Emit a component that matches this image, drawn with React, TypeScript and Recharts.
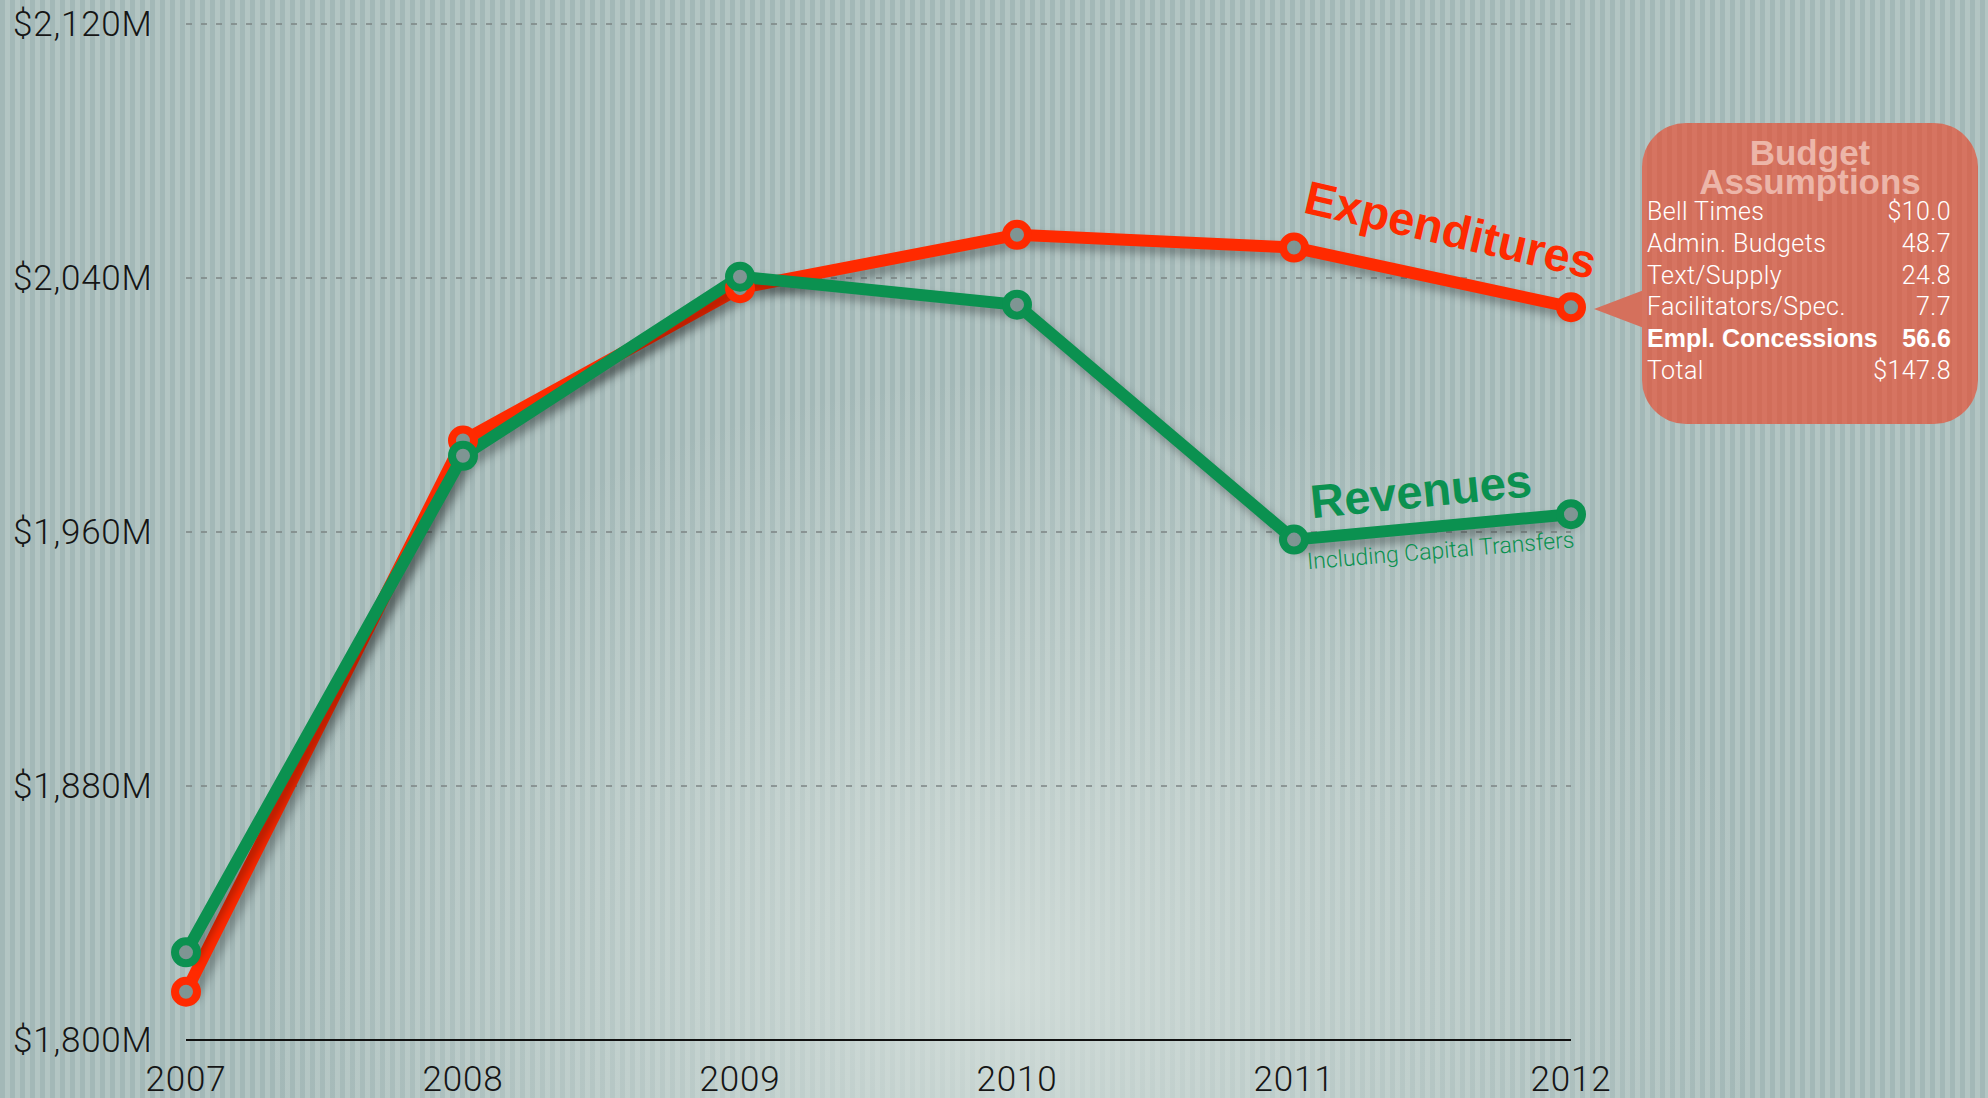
import { LineChart, Line, XAxis, YAxis, CartesianGrid } from 'recharts';

const years = ['2007', '2008', '2009', '2010', '2011', '2012'];
const expenditures = [1815.2, 1988.8, 2036.8, 2053.6, 2049.6, 2030.8];
const revenues = [1827.6, 1984.0, 2040.4, 2031.6, 1957.6, 1965.6];
const yTicks = [1800, 1880, 1960, 2040, 2120];

const assumptionItems = ['Bell Times', 'Admin. Budgets', 'Text/Supply', 'Facilitators/Spec.', 'Empl. Concessions', 'Total'];
const assumptionValues = ['$10.0', '48.7', '24.8', '7.7', '56.6', '$147.8'];
const boldRow = 'Empl. Concessions';

const RED = '#ff2a00';
const GREEN = '#0b9150';
const BOX = '#d5705c';
const LIGHT = "Roboto, 'Liberation Sans', sans-serif";
const BOLD = "'Liberation Sans', Arial, sans-serif";

const data = years.map((year, i) => ({
  year,
  expenditures: expenditures[i],
  revenues: revenues[i],
}));

const lastIdx = years.length - 1;

function YTick({ y, payload }: any) {
  return (
    <text x={13} y={y} dy="0.35em" textAnchor="start" fontSize={35} letterSpacing={0.8}
      fontFamily={LIGHT} fontWeight={300} fill="#151515">
      {`$${Number(payload.value).toLocaleString('en-US')}M`}
    </text>
  );
}

function XTick({ x, y, payload }: any) {
  return (
    <text x={x} y={y + 43} textAnchor="middle" fontSize={35} letterSpacing={0.8}
      fontFamily={LIGHT} fontWeight={300} fill="#151515">
      {payload.value}
    </text>
  );
}

// ring marker + series label next to the last point
function makeDot(color: string, kind: 'exp' | 'rev') {
  return (props: any) => {
    const { cx, cy, index } = props;
    const ring = <circle cx={cx} cy={cy} r={11} fill="#7f9593" stroke={color} strokeWidth={8} />;
    if (index !== lastIdx) return <g key={`d${kind}${index}`}>{ring}</g>;
    if (kind === 'exp') {
      const lx = cx + 21, ly = cy - 28;
      return (
        <g key={`d${kind}${index}`}>
          {ring}
          <text x={lx} y={ly} textAnchor="end" transform={`rotate(13 ${lx} ${ly})`}
            fontSize={47} fontWeight={700} fontFamily={BOLD} fill={color}>Expenditures</text>
        </g>
      );
    }
    const lx = cx - 38, ly = cy - 18;
    const sx = cx + 4, sy = cy + 33;
    return (
      <g key={`d${kind}${index}`}>
        {ring}
        <text x={lx} y={ly} textAnchor="end" transform={`rotate(-5.7 ${lx} ${ly})`}
          fontSize={47} fontWeight={700} fontFamily={BOLD} fill={color}>Revenues</text>
        <text x={sx} y={sy} textAnchor="end" transform={`rotate(-4.7 ${sx} ${sy})`}
          fontSize={23} fontWeight={300} fontFamily={LIGHT} fill={color}>Including Capital Transfers</text>
      </g>
    );
  };
}

export default function App() {
  return (
    <div
      style={{
        position: 'absolute', left: 0, top: 0, width: 1988, height: 1098, overflow: 'hidden',
        background:
          'radial-gradient(ellipse 1000px 800px at 1010px 980px, rgba(214,224,220,0.85), rgba(214,224,220,0) 75%),' +
          'repeating-linear-gradient(90deg, #a3b8b7 0px, #a3b8b7 5px, #b3c5c3 5px, #b3c5c3 10px)',
      }}
    >
      <style>{`.recharts-line { filter: drop-shadow(5px 7px 5px rgba(0,0,0,0.3)); }`}</style>
      <LineChart width={1988} height={1098} data={data} margin={{ top: 24, right: 417, bottom: 0, left: 0 }}>
        <CartesianGrid vertical={false} stroke="#7d8585" strokeDasharray="6 9" strokeWidth={1.5} />
        <XAxis dataKey="year" height={58} axisLine={{ stroke: '#111', strokeWidth: 2 }} tickLine={false} tick={<XTick />} interval={0} />
        <YAxis width={186} domain={[1800, 2120]} ticks={yTicks} axisLine={false} tickLine={false} tick={<YTick />} />
        <Line type="linear" dataKey="expenditures" stroke={RED} strokeWidth={12} dot={makeDot(RED, 'exp')} activeDot={false} isAnimationActive={false} />
        <Line type="linear" dataKey="revenues" stroke={GREEN} strokeWidth={12} dot={makeDot(GREEN, 'rev')} activeDot={false} isAnimationActive={false} />
      </LineChart>

      {/* callout pointer */}
      <div style={{
        position: 'absolute', left: 1594, top: 290, width: 0, height: 0,
        borderTop: '19px solid transparent', borderBottom: '19px solid transparent', borderRight: `50px solid ${BOX}`,
      }} />
      <div style={{
        position: 'absolute', left: 1642, top: 123, width: 336, height: 301, borderRadius: 44,
        background: `repeating-linear-gradient(90deg, rgba(255,255,255,0.03) 0px, rgba(255,255,255,0.03) 5px, rgba(0,0,0,0.02) 5px, rgba(0,0,0,0.02) 10px), ${BOX}`,
        boxSizing: 'border-box', padding: '15px 27px 0 5px',
      }}>
        <div style={{ textAlign: 'center', fontFamily: BOLD, fontWeight: 700, fontSize: 35, lineHeight: '29px', color: '#ecb5a8', paddingLeft: 22 }}>
          Budget<br />Assumptions
        </div>
        {assumptionItems.map((item, i) => {
          const bold = item === boldRow;
          return (
            <div key={item} style={{
              display: 'flex', justifyContent: 'space-between', lineHeight: '31.8px', color: '#fff',
              fontFamily: bold ? BOLD : LIGHT, fontWeight: bold ? 700 : 300,
              fontSize: 25, letterSpacing: bold ? 0 : 0.4,
            }}>
              <span>{item}</span>
              <span>{assumptionValues[i]}</span>
            </div>
          );
        })}
      </div>
    </div>
  );
}
